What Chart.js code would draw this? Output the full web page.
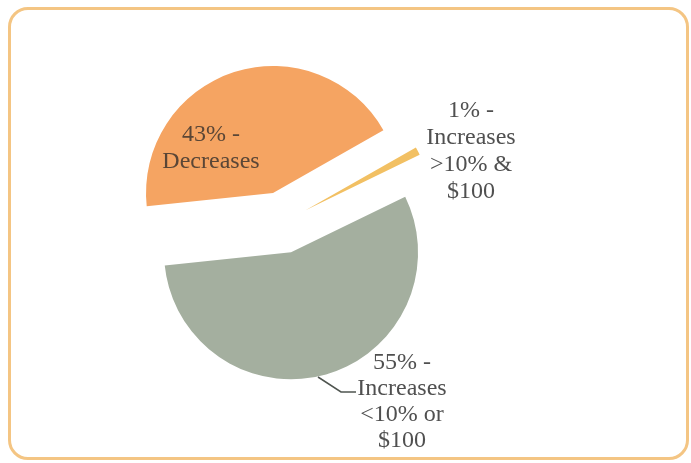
<!DOCTYPE html>
<html>
<head>
<meta charset="utf-8">
<script src="https://cdn.jsdelivr.net/npm/chart.js@4"></script>
<style>
  html, body { margin: 0; padding: 0; background: #fff; }
  #wrap { position: relative; width: 691px; height: 463px; }
  #frame { position: absolute; left: 8px; top: 7px; width: 681px; height: 453px; box-sizing: border-box;
           border: 3px solid #F4C583; border-radius: 20px; pointer-events: none; }
  canvas { position: absolute; left: 0; top: 0; }
</style>
</head>
<body>
<div id="wrap">
  <canvas id="c" width="691" height="463"></canvas>
  <div id="frame"></div>
</div>
<script>
const categories = ["Decreases", "Increases >10% & $100", "Increases <10% or $100"];
const shares = [43, 1, 55];
const labelLines = [
  ["43% -", "Decreases"],
  ["1% -", "Increases", ">10% &", "$100"],
  ["55% -", "Increases", "<10% or", "$100"]
];
const sliceColors = ["#F5A462", "#F2C063", "#A4AF9F"];
const explodeDist = [31, 26, 31];

const RADIUS = 127;

// pull each slice out along its own mid-angle
const explodePlugin = {
  id: 'explodePlugin',
  afterDatasetUpdate(chart, args) {
    const meta = chart.getDatasetMeta(args.index);
    meta.data.forEach((el, i) => {
      const mid = (el.startAngle + el.endAngle) / 2;
      const d = explodeDist[i] || 0;
      el.x += Math.cos(mid) * d;
      el.y += Math.sin(mid) * d;
    });
  }
};

const labelPlugin = {
  id: 'labelPlugin',
  afterDraw(chart) {
    const ctx = chart.ctx;
    ctx.save();
    ctx.font = '24px "Liberation Serif", "Times New Roman", serif';
    ctx.textAlign = 'center';
    ctx.textBaseline = 'middle';
    const spots = [
      {x: 211, y: 135, lh: 27, color: '#5A4636'},
      {x: 471, y: 111, lh: 27, color: '#505050'},
      {x: 402, y: 363, lh: 26, color: '#505050'}
    ];
    labelLines.forEach((lines, i) => {
      const s = spots[i];
      ctx.fillStyle = s.color;
      lines.forEach((t, j) => ctx.fillText(t, s.x, s.y + j * s.lh));
    });
    // leader line for the 55% label
    ctx.strokeStyle = '#4F5550';
    ctx.lineWidth = 1.5;
    ctx.beginPath();
    ctx.moveTo(318, 377);
    ctx.lineTo(341, 392);
    ctx.lineTo(356, 392);
    ctx.stroke();
    ctx.restore();
  }
};

new Chart(document.getElementById('c'), {
  type: 'pie',
  data: {
    labels: categories,
    datasets: [{
      data: shares,
      backgroundColor: sliceColors,
      borderWidth: 0
    }]
  },
  options: {
    responsive: false,
    animation: false,
    rotation: 264,
    radius: RADIUS,
    layout: { padding: { left: 0, right: 126, top: 0, bottom: 18 } },
    plugins: { legend: { display: false }, tooltip: { enabled: false } }
  },
  plugins: [explodePlugin, labelPlugin]
});
</script>
</body>
</html>
